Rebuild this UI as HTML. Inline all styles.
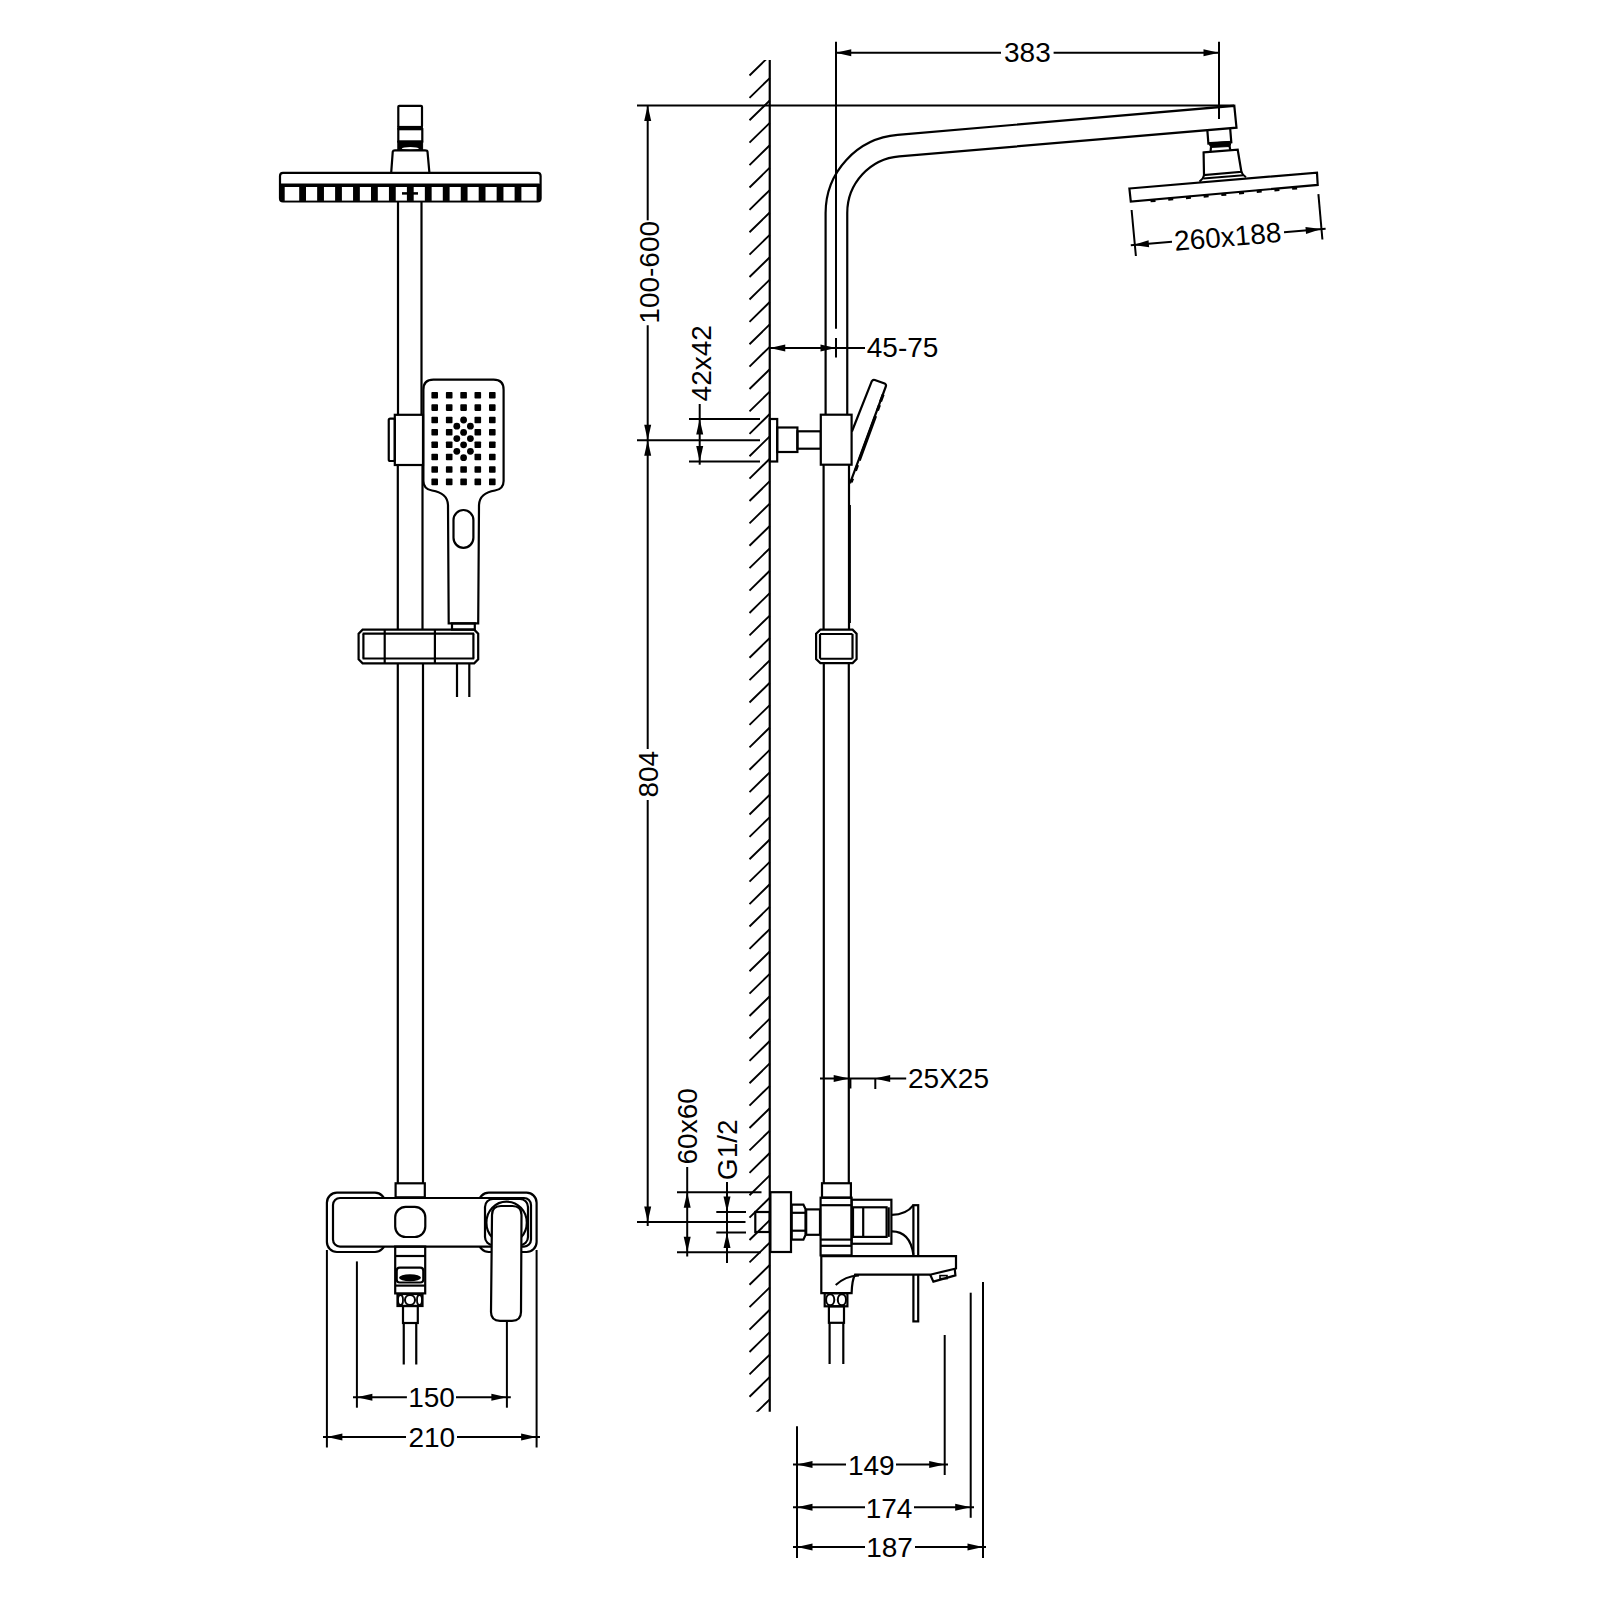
<!DOCTYPE html>
<html><head><meta charset="utf-8"><style>
html,body{margin:0;padding:0;background:#fff;}
svg{display:block;}
text{font-family:"Liberation Sans",sans-serif;fill:#000;stroke:none;}
</style></head><body>
<svg width="1600" height="1600" viewBox="0 0 1600 1600">
<rect width="1600" height="1600" fill="#fff"/>
<g stroke="#000" fill="none" stroke-linecap="butt" stroke-linejoin="miter">
<rect x="398.30" y="105.80" width="23.70" height="21.20" rx="1" stroke-width="2.2" fill="none"/>
<rect x="397.80" y="126.40" width="24.60" height="2.80" rx="0" stroke-width="1" fill="#000"/>
<rect x="398.30" y="129.20" width="24.00" height="12.30" rx="0" stroke-width="2.2" fill="none"/>
<rect x="397.80" y="141.20" width="24.80" height="8.60" rx="0" stroke-width="1" fill="#000"/>
<ellipse cx="410.3" cy="148.4" rx="8.5" ry="1.3" fill="#fff" stroke="none"/>
<path d="M391.2 172.6 L392.75 151.6 Q393 150.3 395 150.3 L425 150.3 Q427.3 150.3 427.5 151.6 L429.4 172.6" stroke-width="2.2" fill="none"/>
<path d="M283 172.8 L537.6 172.8 Q540.6 172.8 540.6 176 L540.6 198.3 Q540.6 201.5 537.6 201.5 L283 201.5 Q280 201.5 280 198.3 L280 176 Q280 172.8 283 172.8 Z" stroke-width="2.2" fill="none"/>
<path d="M281 184 L539.6 184 L539.6 198.3 Q539.6 200.8 537.6 200.8 L283 200.8 Q281 200.8 281 198.3 Z" stroke-width="1" fill="#000"/>
<rect x="284.70" y="187.00" width="14.50" height="13.60" rx="0" stroke-width="0.01" fill="#fff"/>
<rect x="306.00" y="187.00" width="11.15" height="13.60" rx="0" stroke-width="0.01" fill="#fff"/>
<rect x="323.95" y="187.00" width="11.15" height="13.60" rx="0" stroke-width="0.01" fill="#fff"/>
<rect x="341.90" y="187.00" width="11.15" height="13.60" rx="0" stroke-width="0.01" fill="#fff"/>
<rect x="359.85" y="187.00" width="11.15" height="13.60" rx="0" stroke-width="0.01" fill="#fff"/>
<rect x="377.80" y="187.00" width="11.15" height="13.60" rx="0" stroke-width="0.01" fill="#fff"/>
<rect x="395.75" y="187.00" width="11.15" height="13.60" rx="0" stroke-width="0.01" fill="#fff"/>
<rect x="413.70" y="187.00" width="11.15" height="13.60" rx="0" stroke-width="0.01" fill="#fff"/>
<rect x="431.65" y="187.00" width="11.15" height="13.60" rx="0" stroke-width="0.01" fill="#fff"/>
<rect x="449.60" y="187.00" width="11.15" height="13.60" rx="0" stroke-width="0.01" fill="#fff"/>
<rect x="467.55" y="187.00" width="11.15" height="13.60" rx="0" stroke-width="0.01" fill="#fff"/>
<rect x="485.50" y="187.00" width="11.15" height="13.60" rx="0" stroke-width="0.01" fill="#fff"/>
<rect x="503.45" y="187.00" width="11.15" height="13.60" rx="0" stroke-width="0.01" fill="#fff"/>
<rect x="521.40" y="187.00" width="15.20" height="13.60" rx="0" stroke-width="0.01" fill="#fff"/>
<line x1="402.00" y1="193.40" x2="418.00" y2="193.40" stroke-width="2.5"/>
<line x1="398.00" y1="201.50" x2="398.00" y2="414.80" stroke-width="2.2"/>
<line x1="421.50" y1="201.50" x2="421.50" y2="414.80" stroke-width="2.2"/>
<line x1="397.80" y1="465.00" x2="397.80" y2="629.60" stroke-width="2.2"/>
<line x1="422.50" y1="465.00" x2="422.50" y2="629.60" stroke-width="2.2"/>
<line x1="397.80" y1="663.30" x2="397.80" y2="1183.30" stroke-width="2.2"/>
<line x1="423.00" y1="663.30" x2="423.00" y2="1183.30" stroke-width="2.2"/>
<rect x="394.80" y="414.80" width="28.20" height="50.20" rx="0" stroke-width="2.2" fill="none"/>
<rect x="388.75" y="418.60" width="6.05" height="42.40" rx="1.5" stroke-width="2.2" fill="none"/>
<path d="M433.4 379.7 L493.6 379.7 Q503.6 379.7 503.6 389.7 L503.6 481 Q503.6 489 495 490.5 Q479.5 493 479 505 L478.2 623.4 L448.7 623.4 L448 505 Q447.5 493 432 490.5 Q423.4 489 423.4 481 L423.4 389.7 Q423.4 379.7 433.4 379.7 Z" stroke-width="2.2" fill="none"/>
<rect x="453.50" y="510.00" width="19.90" height="37.80" rx="10" stroke-width="2.2" fill="none"/>
<rect x="431.40" y="391.90" width="6.60" height="6.60" rx="0.8" stroke-width="0.01" fill="#000"/>
<rect x="445.90" y="391.90" width="6.60" height="6.60" rx="0.8" stroke-width="0.01" fill="#000"/>
<rect x="460.30" y="391.90" width="6.60" height="6.60" rx="0.8" stroke-width="0.01" fill="#000"/>
<rect x="474.50" y="391.90" width="6.60" height="6.60" rx="0.8" stroke-width="0.01" fill="#000"/>
<rect x="489.00" y="391.90" width="6.60" height="6.60" rx="0.8" stroke-width="0.01" fill="#000"/>
<rect x="431.40" y="404.30" width="6.60" height="6.60" rx="0.8" stroke-width="0.01" fill="#000"/>
<rect x="445.90" y="404.30" width="6.60" height="6.60" rx="0.8" stroke-width="0.01" fill="#000"/>
<rect x="460.30" y="404.30" width="6.60" height="6.60" rx="0.8" stroke-width="0.01" fill="#000"/>
<rect x="474.50" y="404.30" width="6.60" height="6.60" rx="0.8" stroke-width="0.01" fill="#000"/>
<rect x="489.00" y="404.30" width="6.60" height="6.60" rx="0.8" stroke-width="0.01" fill="#000"/>
<rect x="431.40" y="416.70" width="6.60" height="6.60" rx="0.8" stroke-width="0.01" fill="#000"/>
<rect x="445.90" y="416.70" width="6.60" height="6.60" rx="0.8" stroke-width="0.01" fill="#000"/>
<rect x="474.50" y="416.70" width="6.60" height="6.60" rx="0.8" stroke-width="0.01" fill="#000"/>
<rect x="489.00" y="416.70" width="6.60" height="6.60" rx="0.8" stroke-width="0.01" fill="#000"/>
<rect x="431.40" y="428.90" width="6.60" height="6.60" rx="0.8" stroke-width="0.01" fill="#000"/>
<rect x="445.90" y="428.90" width="6.60" height="6.60" rx="0.8" stroke-width="0.01" fill="#000"/>
<rect x="474.50" y="428.90" width="6.60" height="6.60" rx="0.8" stroke-width="0.01" fill="#000"/>
<rect x="489.00" y="428.90" width="6.60" height="6.60" rx="0.8" stroke-width="0.01" fill="#000"/>
<rect x="431.40" y="441.50" width="6.60" height="6.60" rx="0.8" stroke-width="0.01" fill="#000"/>
<rect x="445.90" y="441.50" width="6.60" height="6.60" rx="0.8" stroke-width="0.01" fill="#000"/>
<rect x="474.50" y="441.50" width="6.60" height="6.60" rx="0.8" stroke-width="0.01" fill="#000"/>
<rect x="489.00" y="441.50" width="6.60" height="6.60" rx="0.8" stroke-width="0.01" fill="#000"/>
<rect x="431.40" y="453.70" width="6.60" height="6.60" rx="0.8" stroke-width="0.01" fill="#000"/>
<rect x="445.90" y="453.70" width="6.60" height="6.60" rx="0.8" stroke-width="0.01" fill="#000"/>
<rect x="474.50" y="453.70" width="6.60" height="6.60" rx="0.8" stroke-width="0.01" fill="#000"/>
<rect x="489.00" y="453.70" width="6.60" height="6.60" rx="0.8" stroke-width="0.01" fill="#000"/>
<rect x="431.40" y="466.20" width="6.60" height="6.60" rx="0.8" stroke-width="0.01" fill="#000"/>
<rect x="445.90" y="466.20" width="6.60" height="6.60" rx="0.8" stroke-width="0.01" fill="#000"/>
<rect x="460.30" y="466.20" width="6.60" height="6.60" rx="0.8" stroke-width="0.01" fill="#000"/>
<rect x="474.50" y="466.20" width="6.60" height="6.60" rx="0.8" stroke-width="0.01" fill="#000"/>
<rect x="489.00" y="466.20" width="6.60" height="6.60" rx="0.8" stroke-width="0.01" fill="#000"/>
<rect x="431.40" y="478.60" width="6.60" height="6.60" rx="0.8" stroke-width="0.01" fill="#000"/>
<rect x="445.90" y="478.60" width="6.60" height="6.60" rx="0.8" stroke-width="0.01" fill="#000"/>
<rect x="460.30" y="478.60" width="6.60" height="6.60" rx="0.8" stroke-width="0.01" fill="#000"/>
<rect x="474.50" y="478.60" width="6.60" height="6.60" rx="0.8" stroke-width="0.01" fill="#000"/>
<rect x="489.00" y="478.60" width="6.60" height="6.60" rx="0.8" stroke-width="0.01" fill="#000"/>
<circle cx="463.6" cy="420" r="3.4" fill="#000" stroke="none"/>
<circle cx="456.8" cy="426.2" r="3.4" fill="#000" stroke="none"/>
<circle cx="470.4" cy="426.2" r="3.4" fill="#000" stroke="none"/>
<circle cx="463.6" cy="432.4" r="3.4" fill="#000" stroke="none"/>
<circle cx="456.8" cy="438.6" r="3.4" fill="#000" stroke="none"/>
<circle cx="470.4" cy="438.6" r="3.4" fill="#000" stroke="none"/>
<circle cx="463.6" cy="444.8" r="3.4" fill="#000" stroke="none"/>
<circle cx="456.8" cy="451.3" r="3.4" fill="#000" stroke="none"/>
<circle cx="470.4" cy="451.3" r="3.4" fill="#000" stroke="none"/>
<circle cx="463.6" cy="457.7" r="3.4" fill="#000" stroke="none"/>
<rect x="452.00" y="623.40" width="22.80" height="6.20" rx="0" stroke-width="2.2" fill="none"/>
<path d="M362.6 629.6 L474.2 629.6 L478.2 633.6 L478.2 659.3 L474.2 663.3 L362.6 663.3 L358.6 659.3 L358.6 633.6 Z" stroke-width="2.2" fill="none"/>
<line x1="362.60" y1="633.70" x2="474.20" y2="633.70" stroke-width="2.2"/>
<line x1="362.60" y1="658.50" x2="474.20" y2="658.50" stroke-width="2.2"/>
<line x1="363.40" y1="633.70" x2="363.40" y2="658.50" stroke-width="2.2"/>
<line x1="473.40" y1="633.70" x2="473.40" y2="658.50" stroke-width="2.2"/>
<line x1="384.70" y1="629.60" x2="384.70" y2="663.30" stroke-width="2.2"/>
<line x1="434.90" y1="629.60" x2="434.90" y2="663.30" stroke-width="2.2"/>
<line x1="457.00" y1="663.30" x2="457.00" y2="697.00" stroke-width="2.2"/>
<line x1="469.30" y1="663.30" x2="469.30" y2="697.00" stroke-width="2.2"/>
<rect x="395.60" y="1183.30" width="29.20" height="14.00" rx="0" stroke-width="2.2" fill="none"/>
<rect x="326.90" y="1192.70" width="58.10" height="59.30" rx="10" stroke-width="2.2" fill="none"/>
<rect x="478.75" y="1192.70" width="57.85" height="59.30" rx="10" stroke-width="2.2" fill="none"/>
<rect x="333.00" y="1198.00" width="198.00" height="48.60" rx="7" stroke-width="2.2" fill="#fff"/>
<rect x="395.20" y="1206.80" width="30.10" height="30.20" rx="10.5" stroke-width="2.2" fill="none"/>
<rect x="485.00" y="1199.00" width="43.00" height="46.00" rx="8" stroke-width="2.2" fill="#fff"/>
<ellipse cx="506.6" cy="1222.7" rx="20.2" ry="21" fill="none" stroke-width="2.2"/>
<path d="M492 1215 Q492 1206 501 1206 L512.5 1206 Q521.5 1206 521.5 1215 L521 1312 Q521 1320.8 512 1320.8 L500 1320.8 Q491 1320.8 491 1312 Z" stroke-width="2.2" fill="#fff"/>
<rect x="395.20" y="1246.60" width="30.00" height="46.80" rx="0" stroke-width="2.2" fill="none"/>
<line x1="395.20" y1="1256.00" x2="425.20" y2="1256.00" stroke-width="2.2"/>
<line x1="395.20" y1="1285.60" x2="425.20" y2="1285.60" stroke-width="2.2"/>
<rect x="396.70" y="1267.70" width="26.60" height="14.80" rx="3" stroke-width="2.2" fill="none"/>
<ellipse cx="410" cy="1277.8" rx="11" ry="3.5" fill="#000" stroke="none"/>
<rect x="397.50" y="1294.00" width="25.00" height="12.00" rx="0" stroke-width="2.2" fill="none"/>
<circle cx="410" cy="1300" r="5" fill="none" stroke-width="2"/>
<ellipse cx="400.5" cy="1300" rx="2.5" ry="5" fill="none" stroke-width="1.8"/>
<ellipse cx="419.5" cy="1300" rx="2.5" ry="5" fill="none" stroke-width="1.8"/>
<rect x="403.00" y="1306.00" width="14.80" height="17.00" rx="0" stroke-width="2.2" fill="none"/>
<line x1="403.75" y1="1323.00" x2="403.75" y2="1364.50" stroke-width="2.2"/>
<line x1="416.25" y1="1323.00" x2="416.25" y2="1364.50" stroke-width="2.2"/>
<line x1="326.90" y1="1250.00" x2="326.90" y2="1447.50" stroke-width="2.0"/>
<line x1="536.60" y1="1250.00" x2="536.60" y2="1447.50" stroke-width="2.0"/>
<line x1="356.90" y1="1261.40" x2="356.90" y2="1407.70" stroke-width="2.0"/>
<line x1="506.90" y1="1321.60" x2="506.90" y2="1407.70" stroke-width="2.0"/>
<line x1="353.00" y1="1397.20" x2="406.90" y2="1397.20" stroke-width="2.0"/>
<line x1="456.00" y1="1397.20" x2="510.80" y2="1397.20" stroke-width="2.0"/>
<path d="M356.90 1397.20 L372.40 1393.70 L372.40 1400.70 Z" fill="#000" stroke="none"/>
<path d="M506.90 1397.20 L491.40 1400.70 L491.40 1393.70 Z" fill="#000" stroke="none"/>
<text x="431.50" y="1406.90" font-size="28" text-anchor="middle">150</text>
<line x1="323.00" y1="1437.00" x2="406.00" y2="1437.00" stroke-width="2.0"/>
<line x1="457.00" y1="1437.00" x2="540.00" y2="1437.00" stroke-width="2.0"/>
<path d="M326.90 1437.00 L342.40 1433.50 L342.40 1440.50 Z" fill="#000" stroke="none"/>
<path d="M536.60 1437.00 L521.10 1440.50 L521.10 1433.50 Z" fill="#000" stroke="none"/>
<text x="431.75" y="1447.00" font-size="28" text-anchor="middle">210</text>
<clipPath id="wc"><rect x="740" y="60" width="40" height="1351.7"/></clipPath>
<path d="M769.75 55.71 L749.5 75.51 M769.75 78.10 L749.5 97.90 M769.75 100.49 L749.5 120.29 M769.75 122.89 L749.5 142.69 M769.75 145.28 L749.5 165.08 M769.75 167.68 L749.5 187.48 M769.75 190.07 L749.5 209.87 M769.75 212.46 L749.5 232.26 M769.75 234.86 L749.5 254.66 M769.75 257.25 L749.5 277.05 M769.75 279.65 L749.5 299.45 M769.75 302.04 L749.5 321.84 M769.75 324.43 L749.5 344.23 M769.75 346.83 L749.5 366.63 M769.75 369.22 L749.5 389.02 M769.75 391.62 L749.5 411.42 M769.75 414.01 L749.5 433.81 M769.75 436.40 L749.5 456.20 M769.75 458.80 L749.5 478.60 M769.75 481.19 L749.5 500.99 M769.75 503.59 L749.5 523.39 M769.75 525.98 L749.5 545.78 M769.75 548.37 L749.5 568.17 M769.75 570.77 L749.5 590.57 M769.75 593.16 L749.5 612.96 M769.75 615.56 L749.5 635.36 M769.75 637.95 L749.5 657.75 M769.75 660.34 L749.5 680.14 M769.75 682.74 L749.5 702.54 M769.75 705.13 L749.5 724.93 M769.75 727.53 L749.5 747.33 M769.75 749.92 L749.5 769.72 M769.75 772.31 L749.5 792.11 M769.75 794.71 L749.5 814.51 M769.75 817.10 L749.5 836.90 M769.75 839.50 L749.5 859.30 M769.75 861.89 L749.5 881.69 M769.75 884.28 L749.5 904.08 M769.75 906.68 L749.5 926.48 M769.75 929.07 L749.5 948.87 M769.75 951.47 L749.5 971.27 M769.75 973.86 L749.5 993.66 M769.75 996.25 L749.5 1016.05 M769.75 1018.65 L749.5 1038.45 M769.75 1041.04 L749.5 1060.84 M769.75 1063.44 L749.5 1083.24 M769.75 1085.83 L749.5 1105.63 M769.75 1108.22 L749.5 1128.02 M769.75 1130.62 L749.5 1150.42 M769.75 1153.01 L749.5 1172.81 M769.75 1175.41 L749.5 1195.21 M769.75 1197.80 L749.5 1217.60 M769.75 1220.19 L749.5 1239.99 M769.75 1242.59 L749.5 1262.39 M769.75 1264.98 L749.5 1284.78 M769.75 1287.38 L749.5 1307.18 M769.75 1309.77 L749.5 1329.57 M769.75 1332.16 L749.5 1351.96 M769.75 1354.56 L749.5 1374.36 M769.75 1376.95 L749.5 1396.75 M769.75 1399.35 L749.5 1419.15 M769.75 1421.74 L749.5 1441.54" stroke-width="1.9" clip-path="url(#wc)"/>
<line x1="769.75" y1="60.00" x2="769.75" y2="1411.70" stroke-width="2.2"/>
<line x1="637.00" y1="105.50" x2="1234.00" y2="105.50" stroke-width="2.0"/>
<line x1="647.70" y1="105.50" x2="647.70" y2="220.30" stroke-width="2.0"/>
<path d="M647.70 105.50 L651.20 121.00 L644.20 121.00 Z" fill="#000" stroke="none"/>
<text x="0" y="0" transform="translate(658.60 272.30) rotate(-90)" font-size="28" text-anchor="middle">100-600</text>
<line x1="647.70" y1="325.30" x2="647.70" y2="749.00" stroke-width="2.0"/>
<path d="M647.70 440.20 L644.20 424.70 L651.20 424.70 Z" fill="#000" stroke="none"/>
<path d="M647.70 440.20 L651.20 455.70 L644.20 455.70 Z" fill="#000" stroke="none"/>
<line x1="637.00" y1="440.20" x2="760.00" y2="440.20" stroke-width="2.0"/>
<text x="0" y="0" transform="translate(657.80 774.25) rotate(-90)" font-size="28" text-anchor="middle">804</text>
<line x1="647.70" y1="800.00" x2="647.70" y2="1226.00" stroke-width="2.0"/>
<path d="M647.70 1222.00 L644.20 1206.50 L651.20 1206.50 Z" fill="#000" stroke="none"/>
<line x1="689.00" y1="419.00" x2="760.00" y2="419.00" stroke-width="2.0"/>
<line x1="689.00" y1="461.50" x2="760.00" y2="461.50" stroke-width="2.0"/>
<line x1="699.70" y1="404.00" x2="699.70" y2="464.70" stroke-width="2.0"/>
<path d="M699.70 419.00 L703.20 434.50 L696.20 434.50 Z" fill="#000" stroke="none"/>
<path d="M699.70 461.50 L696.20 446.00 L703.20 446.00 Z" fill="#000" stroke="none"/>
<text x="0" y="0" transform="translate(710.60 363.25) rotate(-90)" font-size="28" text-anchor="middle">42x42</text>
<line x1="769.75" y1="348.00" x2="865.00" y2="348.00" stroke-width="2.0"/>
<path d="M769.75 348.00 L785.25 344.50 L785.25 351.50 Z" fill="#000" stroke="none"/>
<path d="M836.00 348.00 L820.50 351.50 L820.50 344.50 Z" fill="#000" stroke="none"/>
<text x="902.60" y="357.40" font-size="28" text-anchor="middle">45-75</text>
<line x1="836.00" y1="41.80" x2="836.00" y2="328.75" stroke-width="2.0"/>
<line x1="836.00" y1="338.00" x2="836.00" y2="357.50" stroke-width="2.0"/>
<line x1="835.75" y1="52.80" x2="1001.00" y2="52.80" stroke-width="2.0"/>
<line x1="1053.60" y1="52.80" x2="1219.00" y2="52.80" stroke-width="2.0"/>
<path d="M835.75 52.80 L851.25 49.30 L851.25 56.30 Z" fill="#000" stroke="none"/>
<path d="M1219.00 52.80 L1203.50 56.30 L1203.50 49.30 Z" fill="#000" stroke="none"/>
<line x1="1219.00" y1="41.80" x2="1219.00" y2="119.00" stroke-width="2.0"/>
<text x="1027.40" y="62.00" font-size="28" text-anchor="middle">383</text>
<path d="M825.6 414.7 L825.6 213 A78.4 78.4 0 0 1 897.6 134.9 L1234.3 105.8 L1236.5 127.7 L899.3 156.4 A56.75 56.75 0 0 0 847.25 213 L847.25 414.7" stroke-width="2.2" fill="none"/>
<path d="M1207.3 129.8 L1208.4 143.6 L1231.3 142.3 L1230.2 128.75" stroke-width="2.2" fill="none"/>
<path d="M1208.4 142.6 L1231.3 141.3 L1230 146.5 L1210.8 147.4 Z" stroke-width="1" fill="#000"/>
<line x1="1211.00" y1="147.10" x2="1210.60" y2="151.00" stroke-width="2.2"/>
<line x1="1229.60" y1="146.20" x2="1230.20" y2="149.90" stroke-width="2.2"/>
<path d="M1203.6 152.4 L1237.7 149.75 L1241.4 171.8 L1204 175 Z" stroke-width="2.2" fill="none"/>
<path d="M1204 175 Q1203.6 178.5 1199.5 181.6" stroke-width="2" fill="none"/>
<path d="M1241.4 171.8 Q1242 174.5 1246 177.3" stroke-width="2" fill="none"/>
<line x1="1203.20" y1="178.50" x2="1243.50" y2="175.20" stroke-width="2"/>
<path d="M1129.4 188.5 L1317 172.6 L1317.7 184.9 L1130.8 201.6 Z" stroke-width="2.2" fill="none"/>
<rect x="1150.50" y="199.14" width="5" height="3" fill="#000" stroke="none" transform="rotate(-5 1153.00 200.64)"/>
<rect x="1168.20" y="197.58" width="5" height="3" fill="#000" stroke="none" transform="rotate(-5 1170.70 199.08)"/>
<rect x="1185.90" y="196.01" width="5" height="3" fill="#000" stroke="none" transform="rotate(-5 1188.40 197.51)"/>
<rect x="1203.60" y="194.45" width="5" height="3" fill="#000" stroke="none" transform="rotate(-5 1206.10 195.95)"/>
<rect x="1221.30" y="192.89" width="5" height="3" fill="#000" stroke="none" transform="rotate(-5 1223.80 194.39)"/>
<rect x="1239.00" y="191.33" width="5" height="3" fill="#000" stroke="none" transform="rotate(-5 1241.50 192.83)"/>
<rect x="1256.70" y="189.76" width="5" height="3" fill="#000" stroke="none" transform="rotate(-5 1259.20 191.26)"/>
<rect x="1274.40" y="188.20" width="5" height="3" fill="#000" stroke="none" transform="rotate(-5 1276.90 189.70)"/>
<rect x="1292.10" y="186.64" width="5" height="3" fill="#000" stroke="none" transform="rotate(-5 1294.60 188.14)"/>
<line x1="1131.60" y1="210.00" x2="1135.90" y2="256.00" stroke-width="2.0"/>
<line x1="1318.40" y1="194.20" x2="1322.40" y2="239.50" stroke-width="2.0"/>
<line x1="1130.80" y1="245.20" x2="1172.00" y2="241.70" stroke-width="2.0"/>
<line x1="1284.00" y1="232.20" x2="1325.60" y2="228.70" stroke-width="2.0"/>
<path d="M1133.40 245.00 L1148.55 240.20 L1149.14 247.18 Z" fill="#000" stroke="none"/>
<path d="M1321.20 229.10 L1306.05 233.90 L1305.46 226.92 Z" fill="#000" stroke="none"/>
<text x="0" y="0" transform="translate(1228.50 246.30) rotate(-4.84)" font-size="28" text-anchor="middle">260x188</text>
<rect x="769.80" y="419.00" width="7.40" height="42.50" rx="0" stroke-width="2.2" fill="none"/>
<rect x="777.20" y="427.50" width="20.20" height="24.50" rx="0" stroke-width="2.2" fill="none"/>
<rect x="797.40" y="431.30" width="23.40" height="17.40" rx="0" stroke-width="2.2" fill="none"/>
<rect x="820.80" y="414.70" width="30.80" height="50.00" rx="0" stroke-width="2.2" fill="#fff"/>
<path d="M851.9 431.5 L871.8 381.2 Q872.9 379.3 874.8 380 L884.6 383.4 Q886.6 384.6 885.8 386.5 L850 483.3" stroke-width="2.2" fill="none"/>
<path d="M883.2 394.5 L880.6 401.5 M879.5 405 L877.5 410.5 M875.6 416 L859.3 460.4 M857.6 465 L855.5 470.8 M852.6 478.5 L851.2 482.3" stroke-width="3.0" fill="none"/>
<line x1="823.60" y1="464.70" x2="823.60" y2="629.70" stroke-width="2.2"/>
<line x1="849.00" y1="464.70" x2="849.00" y2="629.70" stroke-width="2.2"/>
<line x1="849.50" y1="505.00" x2="849.50" y2="623.00" stroke-width="2.8"/>
<path d="M820.4 629.7 L852.6 629.7 L856.6 633.7 L856.6 659.1 L852.6 663.1 L820.4 663.1 L816.1 659.1 L816.1 633.7 Z" stroke-width="2.2" fill="none"/>
<line x1="820.00" y1="634.00" x2="852.50" y2="634.00" stroke-width="2.2"/>
<line x1="820.00" y1="658.75" x2="852.50" y2="658.75" stroke-width="2.2"/>
<line x1="820.00" y1="634.00" x2="820.00" y2="658.75" stroke-width="2.2"/>
<line x1="852.50" y1="634.00" x2="852.50" y2="658.75" stroke-width="2.2"/>
<line x1="823.80" y1="663.10" x2="823.80" y2="1183.30" stroke-width="2.2"/>
<line x1="848.80" y1="663.10" x2="848.80" y2="1183.30" stroke-width="2.2"/>
<line x1="820.00" y1="1078.60" x2="906.20" y2="1078.60" stroke-width="2.0"/>
<path d="M849.20 1078.60 L833.70 1082.10 L833.70 1075.10 Z" fill="#000" stroke="none"/>
<path d="M874.70 1078.60 L890.20 1075.10 L890.20 1082.10 Z" fill="#000" stroke="none"/>
<line x1="850.40" y1="1078.60" x2="850.40" y2="1088.50" stroke-width="2.0"/>
<line x1="875.30" y1="1078.60" x2="875.30" y2="1089.00" stroke-width="2.0"/>
<text x="948.50" y="1088.00" font-size="28" text-anchor="middle">25X25</text>
<rect x="822.00" y="1183.25" width="28.90" height="14.45" rx="0" stroke-width="2.2" fill="none"/>
<rect x="820.60" y="1197.70" width="31.00" height="57.70" rx="0" stroke-width="2.2" fill="none"/>
<line x1="820.60" y1="1205.20" x2="851.60" y2="1205.20" stroke-width="2.2"/>
<line x1="820.60" y1="1239.60" x2="851.60" y2="1239.60" stroke-width="2.2"/>
<line x1="820.60" y1="1245.80" x2="851.60" y2="1245.80" stroke-width="2.2"/>
<rect x="851.60" y="1199.75" width="39.80" height="44.00" rx="0" stroke-width="2.2" fill="none"/>
<rect x="853.00" y="1207.30" width="33.60" height="29.60" rx="0" stroke-width="2.2" fill="none"/>
<line x1="863.20" y1="1207.30" x2="863.20" y2="1236.90" stroke-width="2.2"/>
<line x1="888.70" y1="1207.30" x2="888.70" y2="1236.90" stroke-width="2.2"/>
<path d="M891.4 1214.9 Q906 1215 913.4 1205.2" stroke-width="2.2" fill="none"/>
<path d="M891.4 1231.4 Q910 1231 913.4 1254.7" stroke-width="2.2" fill="none"/>
<rect x="913.40" y="1205.20" width="4.80" height="116.20" rx="0" stroke-width="2.2" fill="none"/>
<path d="M821.3 1256.1 L956 1256.1 L956 1268.5 L930 1274.7 L855 1274.7 Q852 1280 851.6 1293.2 L821.3 1293.2 Z" stroke-width="2.2" fill="#fff"/>
<path d="M835.7 1285 Q845 1276 859 1275.4" stroke-width="2" fill="none"/>
<path d="M930 1274.2 L933.4 1281.6 L955.4 1275.4 L954.7 1268.5" stroke-width="2.2" fill="none"/>
<rect x="940.00" y="1275.60" width="7.00" height="3.00" rx="0" stroke-width="1.6" fill="none"/>
<rect x="824.70" y="1293.20" width="22.70" height="13.10" rx="0" stroke-width="2.2" fill="none"/>
<ellipse cx="830.2" cy="1299.7" rx="4.1" ry="5.5" fill="none" stroke-width="2"/>
<ellipse cx="841.9" cy="1299.7" rx="4.1" ry="5.5" fill="none" stroke-width="2"/>
<rect x="828.90" y="1306.30" width="15.10" height="16.50" rx="0" stroke-width="2.2" fill="none"/>
<line x1="829.60" y1="1322.80" x2="829.60" y2="1364.00" stroke-width="2.2"/>
<line x1="843.30" y1="1322.80" x2="843.30" y2="1364.00" stroke-width="2.2"/>
<rect x="770.40" y="1192.20" width="20.60" height="59.80" rx="0" stroke-width="2.2" fill="none"/>
<path d="M791.7 1204.6 L803.4 1204.6 L805.5 1209 L805.5 1235 L803.4 1239.6 L791.7 1239.6 Z" stroke-width="2.2" fill="none"/>
<line x1="791.70" y1="1212.80" x2="805.50" y2="1212.80" stroke-width="2.2"/>
<line x1="791.70" y1="1230.70" x2="805.50" y2="1230.70" stroke-width="2.2"/>
<rect x="806.20" y="1209.40" width="13.80" height="25.40" rx="0" stroke-width="2.2" fill="none"/>
<rect x="755.30" y="1212.00" width="14.45" height="20.00" rx="0" stroke-width="2.2" fill="none"/>
<line x1="677.00" y1="1192.20" x2="761.50" y2="1192.20" stroke-width="2.0"/>
<line x1="677.00" y1="1252.30" x2="761.00" y2="1252.30" stroke-width="2.0"/>
<line x1="687.20" y1="1167.00" x2="687.20" y2="1256.50" stroke-width="2.0"/>
<path d="M687.20 1192.20 L690.70 1207.70 L683.70 1207.70 Z" fill="#000" stroke="none"/>
<path d="M687.20 1252.30 L683.70 1236.80 L690.70 1236.80 Z" fill="#000" stroke="none"/>
<text x="0" y="0" transform="translate(697.20 1126.35) rotate(-90)" font-size="28" text-anchor="middle">60x60</text>
<line x1="716.30" y1="1212.00" x2="746.00" y2="1212.00" stroke-width="2.0"/>
<line x1="716.30" y1="1232.50" x2="746.00" y2="1232.50" stroke-width="2.0"/>
<line x1="727.00" y1="1182.00" x2="727.00" y2="1263.00" stroke-width="2.0"/>
<path d="M727.00 1212.00 L723.50 1196.50 L730.50 1196.50 Z" fill="#000" stroke="none"/>
<path d="M727.00 1232.50 L730.50 1248.00 L723.50 1248.00 Z" fill="#000" stroke="none"/>
<text x="0" y="0" transform="translate(737.20 1149.80) rotate(-90)" font-size="28" text-anchor="middle">G1/2</text>
<line x1="637.00" y1="1222.00" x2="745.50" y2="1222.00" stroke-width="2.0"/>
<line x1="797.00" y1="1426.30" x2="797.00" y2="1558.00" stroke-width="2.0"/>
<line x1="944.70" y1="1335.00" x2="944.70" y2="1475.00" stroke-width="2.0"/>
<line x1="970.70" y1="1292.70" x2="970.70" y2="1517.80" stroke-width="2.0"/>
<line x1="983.00" y1="1282.00" x2="983.00" y2="1558.00" stroke-width="2.0"/>
<line x1="793.00" y1="1464.50" x2="846.00" y2="1464.50" stroke-width="2.0"/>
<line x1="896.00" y1="1464.50" x2="948.00" y2="1464.50" stroke-width="2.0"/>
<path d="M797.00 1464.50 L812.50 1461.00 L812.50 1468.00 Z" fill="#000" stroke="none"/>
<path d="M944.70 1464.50 L929.20 1468.00 L929.20 1461.00 Z" fill="#000" stroke="none"/>
<text x="871.30" y="1474.60" font-size="28" text-anchor="middle">149</text>
<line x1="793.00" y1="1507.20" x2="865.00" y2="1507.20" stroke-width="2.0"/>
<line x1="914.00" y1="1507.20" x2="974.00" y2="1507.20" stroke-width="2.0"/>
<path d="M797.00 1507.20 L812.50 1503.70 L812.50 1510.70 Z" fill="#000" stroke="none"/>
<path d="M970.70 1507.20 L955.20 1510.70 L955.20 1503.70 Z" fill="#000" stroke="none"/>
<text x="889.00" y="1517.80" font-size="28" text-anchor="middle">174</text>
<line x1="793.00" y1="1547.00" x2="865.00" y2="1547.00" stroke-width="2.0"/>
<line x1="915.00" y1="1547.00" x2="986.00" y2="1547.00" stroke-width="2.0"/>
<path d="M797.00 1547.00 L812.50 1543.50 L812.50 1550.50 Z" fill="#000" stroke="none"/>
<path d="M983.00 1547.00 L967.50 1550.50 L967.50 1543.50 Z" fill="#000" stroke="none"/>
<text x="889.50" y="1557.00" font-size="28" text-anchor="middle">187</text>
</g></svg></body></html>
